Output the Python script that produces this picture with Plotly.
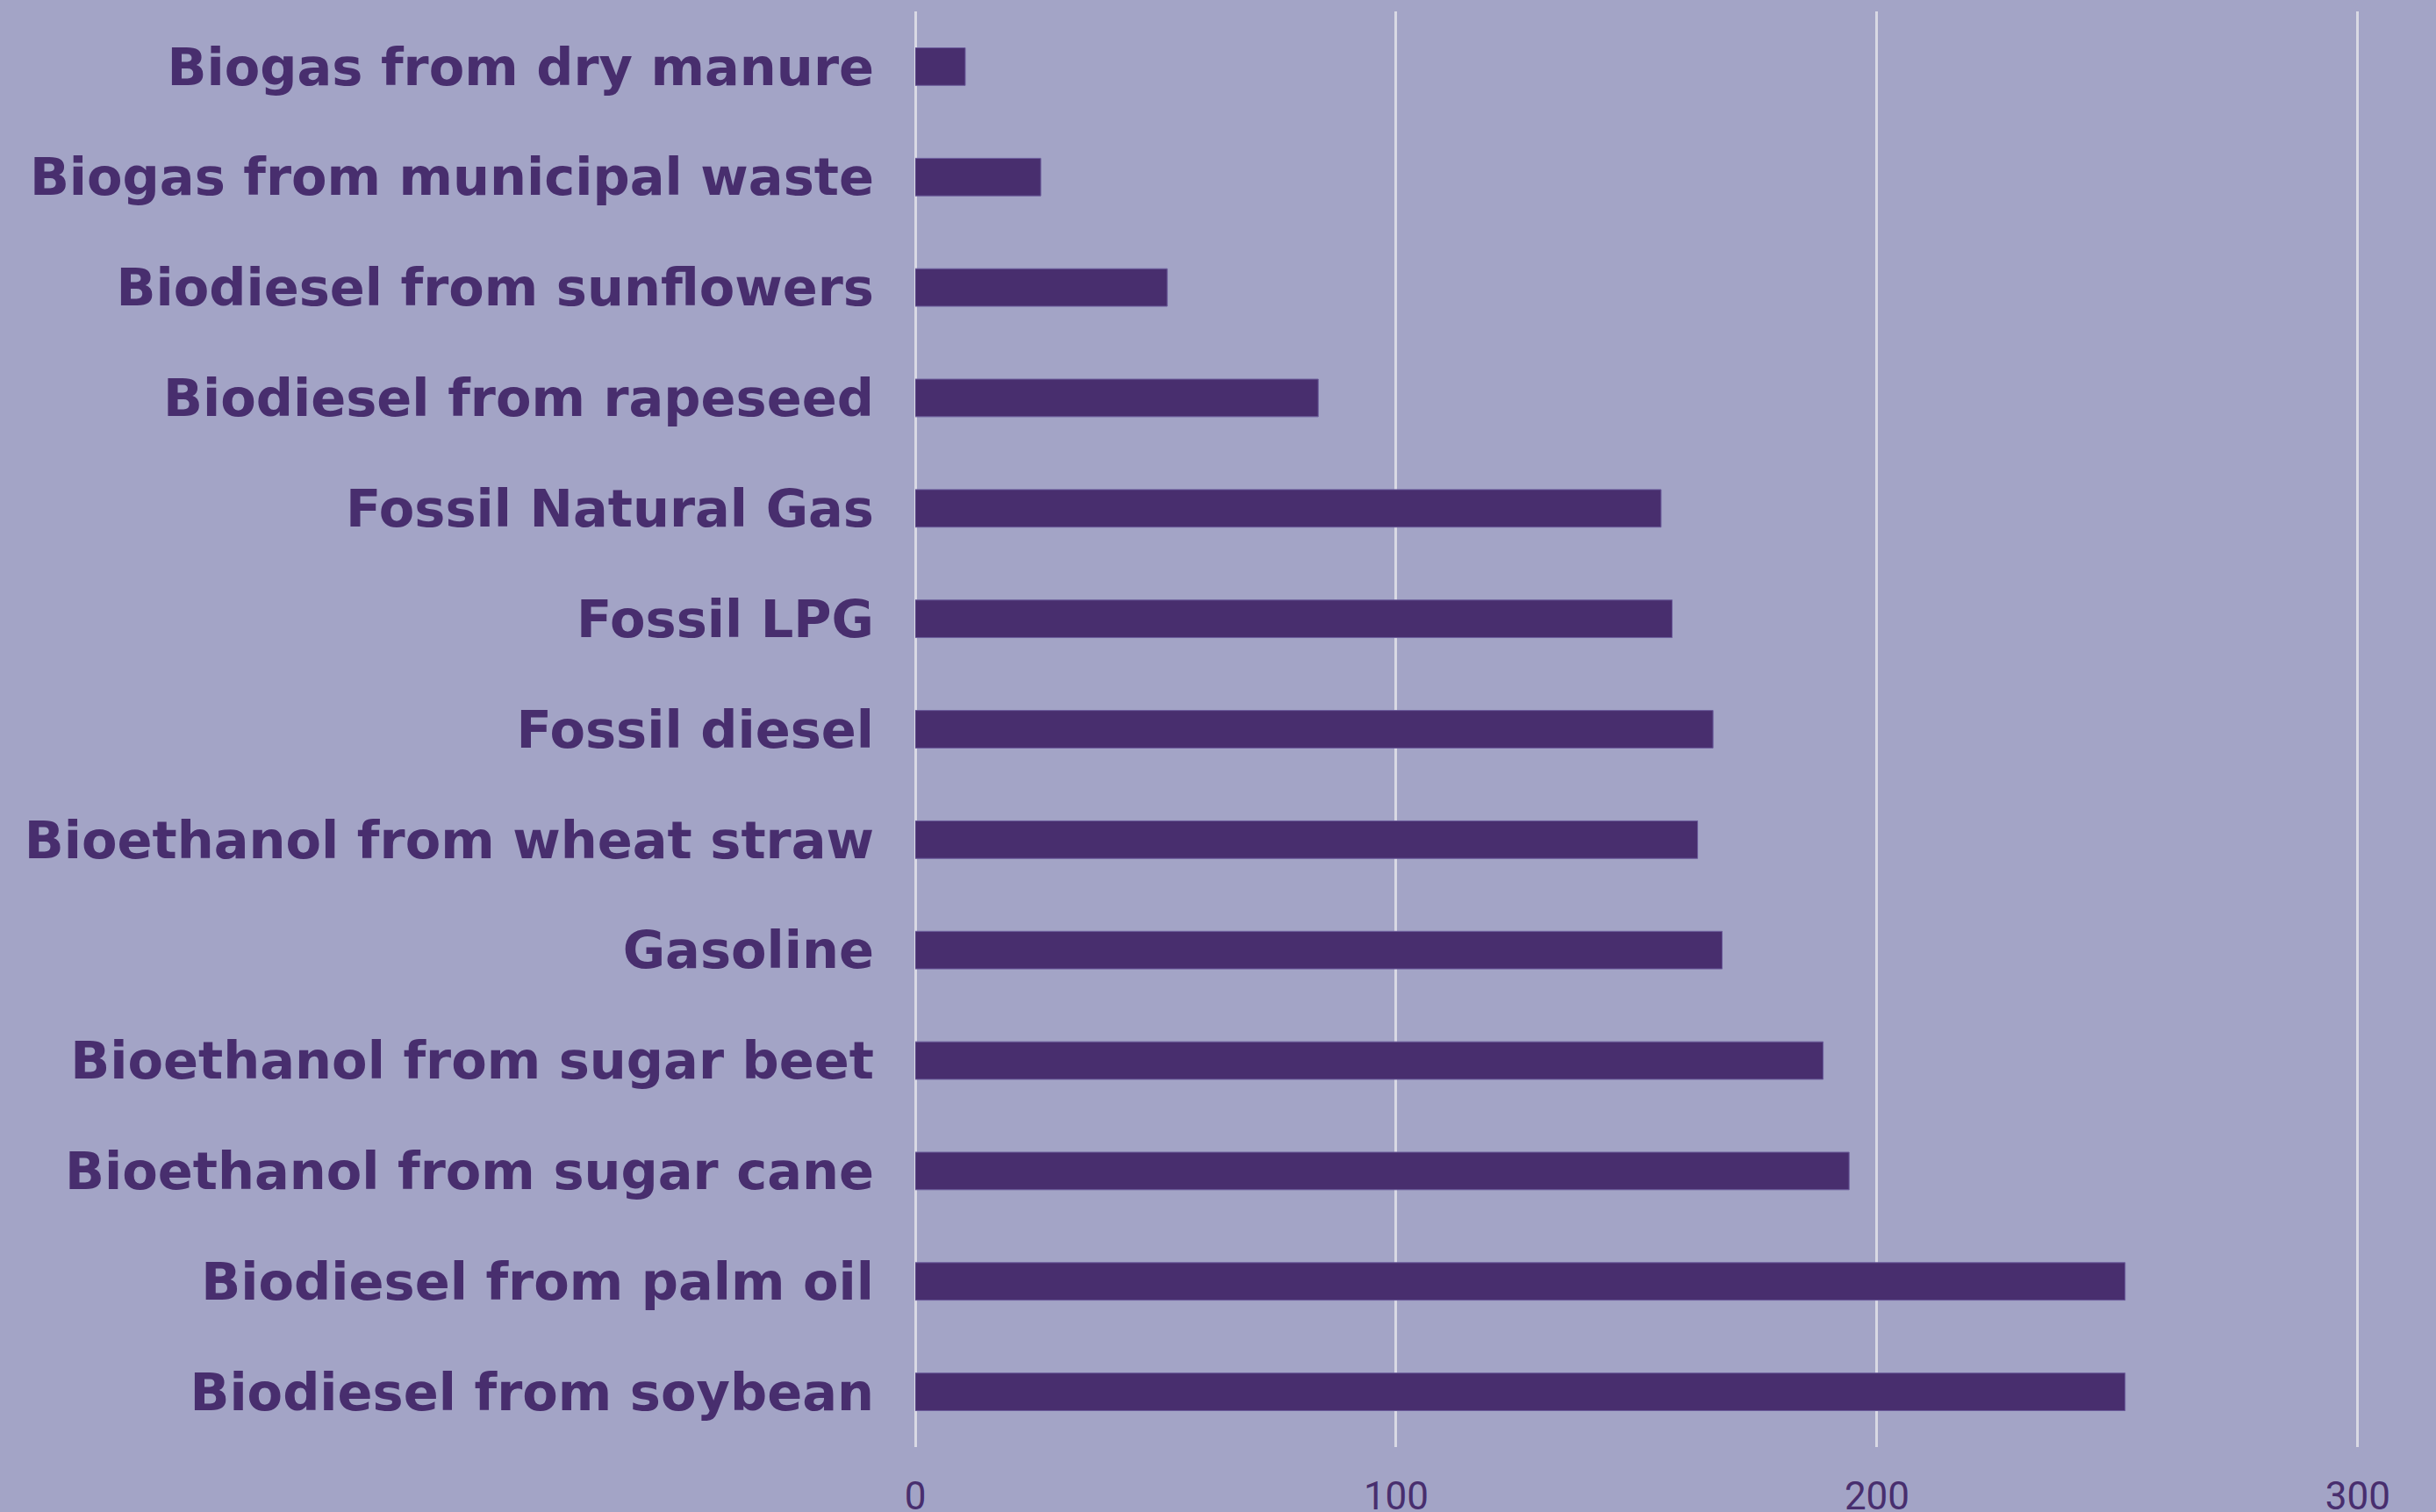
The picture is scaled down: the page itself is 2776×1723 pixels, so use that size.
import plotly.graph_objects as go

fuels = [
    "Biogas from dry manure",
    "Biogas from municipal waste",
    "Biodiesel from sunflowers",
    "Biodiesel from rapeseed",
    "Fossil Natural Gas",
    "Fossil LPG",
    "Fossil diesel",
    "Bioethanol from wheat straw",
    "Gasoline",
    "Bioethanol from sugar beet",
    "Bioethanol from sugar cane",
    "Biodiesel from palm oil",
    "Biodiesel from soybean",
]
emissions = [10.4, 26.1, 52.4, 83.8, 155.1, 157.4, 165.9, 162.7, 167.8, 188.8, 194.2, 251.6, 251.6]
x_ticks = [0, 100, 200, 300]

BG = "#A3A4C6"
PURPLE = "#482E6E"
GRID = "#D9D9E4"

fig = go.Figure()
fig.add_bar(
    y=fuels,
    x=emissions,
    orientation="h",
    marker=dict(color=PURPLE, line=dict(color="#6B5C9B", width=1)),
    showlegend=False,
)

fig.update_layout(
    width=2776,
    height=1723,
    margin=dict(l=1043, r=20, t=13, b=74),
    paper_bgcolor=BG,
    plot_bgcolor=BG,
    bargap=0.66,
    xaxis=dict(
        range=[0, 312.6],
        tickvals=x_ticks,
        showgrid=True,
        gridcolor=GRID,
        gridwidth=3,
        zeroline=True,
        zerolinecolor=GRID,
        zerolinewidth=3,
        showline=False,
        ticks="",
        ticklabelstandoff=26,
        automargin=False,
        tickfont=dict(family="Roboto", size=44, color=PURPLE),
    ),
    yaxis=dict(
        autorange="reversed",
        showgrid=False,
        showline=False,
        ticks="",
        ticklabelstandoff=46,
        automargin=False,
        tickfont=dict(family="DejaVu Sans", size=59, color=PURPLE, weight="bold"),
    ),
)

# drop the default page margin so the figure sits at the window's corner
fig.write_html(
    "out.html",
    config={"displayModeBar": False},
    post_script="document.body.style.margin='0';document.body.style.background='%s';" % BG,
)
